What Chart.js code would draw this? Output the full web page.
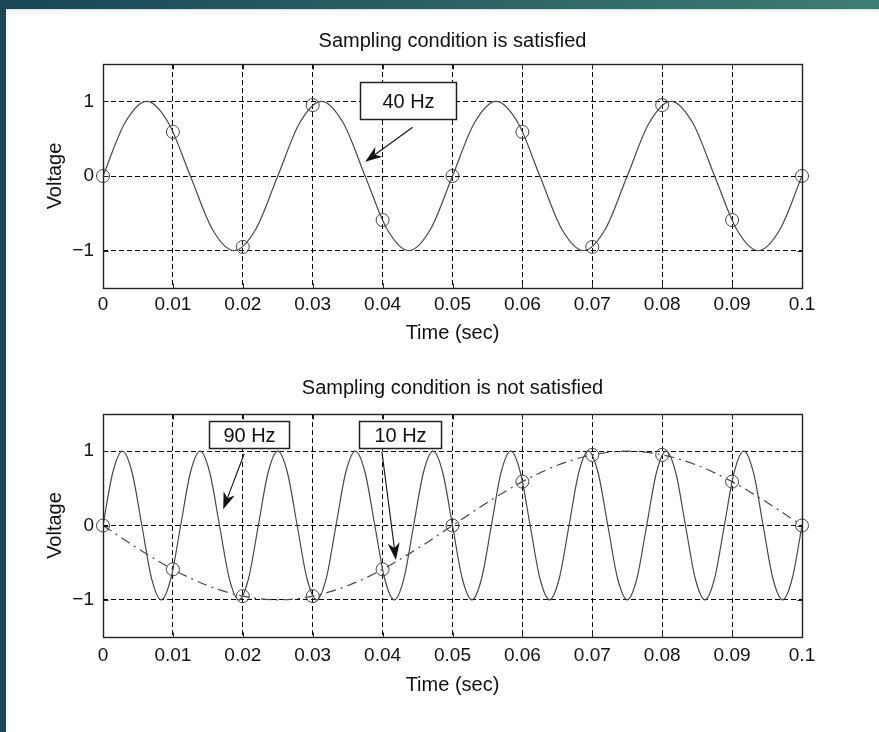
<!DOCTYPE html>
<html>
<head>
<meta charset="utf-8">
<title>Sampling condition</title>
<script src="https://cdn.jsdelivr.net/npm/chart.js@4.4.1/dist/chart.umd.min.js"></script>
<style>
  html, body { margin: 0; padding: 0; background: #fff; }
  body { width: 879px; height: 732px; position: relative; overflow: hidden; }
  #bandTop { position: absolute; left: 0; top: 0; width: 879px; height: 9px; z-index: 2;
             background: linear-gradient(to right, #1a4658, #2b6165 50%, #3e7d73);
             box-shadow: 0 1px 2px rgba(0,0,0,0.18); }
  #bandLeft { position: absolute; left: 0; top: 0; width: 6px; height: 732px; z-index: 2; background: #1a4658; }
  canvas { position: absolute; left: 0; }
  #top { top: 10px; }
  #bot { top: 355px; }
</style>
</head>
<body>
<div id="bandTop"></div>
<div id="bandLeft"></div>
<canvas id="top" width="879" height="345"></canvas>
<canvas id="bot" width="879" height="377"></canvas>
<script>
// axis ticks
var xTicks = [0, 0.01, 0.02, 0.03, 0.04, 0.05, 0.06, 0.07, 0.08, 0.09, 0.1];
var xLabels = ['0', '0.01', '0.02', '0.03', '0.04', '0.05', '0.06', '0.07', '0.08', '0.09', '0.1'];
var yTicks = [-1, 0, 1];
var yLabels = ['\u22121', '0', '1'];

// 40 Hz signal
var t40 = [0, 0.003125, 0.00625, 0.009375, 0.0125, 0.015625, 0.01875, 0.021875, 0.025, 0.028125,
           0.03125, 0.034375, 0.0375, 0.040625, 0.04375, 0.046875, 0.05, 0.053125, 0.05625, 0.059375,
           0.0625, 0.065625, 0.06875, 0.071875, 0.075, 0.078125, 0.08125, 0.084375, 0.0875, 0.090625,
           0.09375, 0.096875, 0.1];
var v40 = [0, 0.71, 1, 0.71, 0, -0.71, -1, -0.71,
           0, 0.71, 1, 0.71, 0, -0.71, -1, -0.71,
           0, 0.71, 1, 0.71, 0, -0.71, -1, -0.71,
           0, 0.71, 1, 0.71, 0, -0.71, -1, -0.71, 0];

// 90 Hz signal (lower plot)
var t90 = [0, 0.00139, 0.00278, 0.00417, 0.00556, 0.00694, 0.00833, 0.00972, 0.01111, 0.0125,
           0.01389, 0.01528, 0.01667, 0.01806, 0.01944, 0.02083, 0.02222, 0.02361, 0.025, 0.02639,
           0.02778, 0.02917, 0.03056, 0.03194, 0.03333, 0.03472, 0.03611, 0.0375, 0.03889, 0.04028,
           0.04167, 0.04306, 0.04444, 0.04583, 0.04722, 0.04861, 0.05, 0.05139, 0.05278, 0.05417,
           0.05556, 0.05694, 0.05833, 0.05972, 0.06111, 0.0625, 0.06389, 0.06528, 0.06667, 0.06806,
           0.06944, 0.07083, 0.07222, 0.07361, 0.075, 0.07639, 0.07778, 0.07917, 0.08056, 0.08194,
           0.08333, 0.08472, 0.08611, 0.0875, 0.08889, 0.09028, 0.09167, 0.09306, 0.09444, 0.09583,
           0.09722, 0.09861, 0.1];
var v90 = [0, 0.71, 1, 0.71, 0, -0.71, -1, -0.71,
           0, 0.71, 1, 0.71, 0, -0.71, -1, -0.71,
           0, 0.71, 1, 0.71, 0, -0.71, -1, -0.71,
           0, 0.71, 1, 0.71, 0, -0.71, -1, -0.71,
           0, 0.71, 1, 0.71, 0, -0.71, -1, -0.71,
           0, 0.71, 1, 0.71, 0, -0.71, -1, -0.71,
           0, 0.71, 1, 0.71, 0, -0.71, -1, -0.71,
           0, 0.71, 1, 0.71, 0, -0.71, -1, -0.71,
           0, 0.71, 1, 0.71, 0, -0.71, -1, -0.71, 0];

// 10 Hz alias (dash-dot curve)
var t10 = [0, 0.005, 0.01, 0.015, 0.02, 0.025, 0.03, 0.035, 0.04, 0.045, 0.05,
           0.055, 0.06, 0.065, 0.07, 0.075, 0.08, 0.085, 0.09, 0.095, 0.1];
var v10 = [0, -0.31, -0.59, -0.81, -0.95, -1, -0.95, -0.81, -0.59, -0.31, 0,
           0.31, 0.59, 0.81, 0.95, 1, 0.95, 0.81, 0.59, 0.31, 0];

// samples (circles), 100 Hz
var tSamp = [0, 0.01, 0.02, 0.03, 0.04, 0.05, 0.06, 0.07, 0.08, 0.09, 0.1];
var s40 = [0, 0.59, -0.95, 0.95, -0.59, 0, 0.59, -0.95, 0.95, -0.59, 0];
var s90 = [0, -0.59, -0.95, -0.95, -0.59, 0, 0.59, 0.95, 0.95, 0.59, 0];

// labels with arrows, in data units
var notesTop = {
    boxes: [{ text: '40 Hz', x0: 0.0368, x1: 0.0505, y0: 1.265, y1: 0.762 }],
    arrows: [{ from: [0.0443, 0.653], to: [0.0375, 0.19] }]
};
var notesBot = {
    boxes: [{ text: '90 Hz', x0: 0.0152, x1: 0.0266, y0: 1.41, y1: 1.04 },
            { text: '10 Hz', x0: 0.0366, x1: 0.0484, y0: 1.41, y1: 1.04 }],
    arrows: [{ from: [0.0202, 0.966], to: [0.0172, 0.218] },
             { from: [0.0399, 0.993], to: [0.0419, -0.463] }]
};

var FONT = "'Liberation Sans', Arial, Helvetica, sans-serif";
Chart.defaults.font.family = FONT;
Chart.defaults.color = '#111';

function pairs(xs, ys) {
    return xs.map(function (x, i) { return { x: x, y: ys[i] }; });
}

var notesPlugin = {
    id: 'notes',
    afterDatasetsDraw: function (chart, args, opts) {
        var ctx = chart.ctx, a = chart.chartArea, xs = chart.scales.x, ys = chart.scales.y;
        var L = Math.round(a.left) + 0.5, R = Math.round(a.right) + 0.5;
        var T = Math.round(a.top) + 0.5, B = Math.round(a.bottom) + 0.5;
        ctx.save();
        ctx.setLineDash([]);
        ctx.strokeStyle = '#222';
        ctx.lineWidth = 1.4;
        ctx.strokeRect(L, T, R - L, B - T);
        // inward tick marks
        ctx.lineWidth = 1;
        ctx.beginPath();
        xTicks.forEach(function (v) {
            var p = Math.round(xs.getPixelForValue(v)) + 0.5;
            ctx.moveTo(p, B); ctx.lineTo(p, B - 5);
            ctx.moveTo(p, T); ctx.lineTo(p, T + 5);
        });
        yTicks.forEach(function (v) {
            var p = Math.round(ys.getPixelForValue(v)) + 0.5;
            ctx.moveTo(L, p); ctx.lineTo(L + 5, p);
            ctx.moveTo(R, p); ctx.lineTo(R - 5, p);
        });
        ctx.stroke();

        // arrows
        ctx.strokeStyle = '#111';
        ctx.fillStyle = '#111';
        ctx.lineWidth = 1.1;
        (opts.arrows || []).forEach(function (ar) {
            var x1 = xs.getPixelForValue(ar.from[0]), y1 = ys.getPixelForValue(ar.from[1]);
            var x2 = xs.getPixelForValue(ar.to[0]), y2 = ys.getPixelForValue(ar.to[1]);
            var ang = Math.atan2(y2 - y1, x2 - x1);
            var c = Math.cos(ang), s = Math.sin(ang);
            var hl = 17, hw = 6;
            ctx.beginPath();
            ctx.moveTo(x1, y1);
            ctx.lineTo(x2 - c * hl * 0.7, y2 - s * hl * 0.7);
            ctx.stroke();
            ctx.beginPath();
            ctx.moveTo(x2, y2);
            ctx.lineTo(x2 - c * hl - s * hw, y2 - s * hl + c * hw);
            ctx.lineTo(x2 - c * hl * 0.7, y2 - s * hl * 0.7);
            ctx.lineTo(x2 - c * hl + s * hw, y2 - s * hl - c * hw);
            ctx.closePath();
            ctx.fill();
        });

        // text boxes
        (opts.boxes || []).forEach(function (b) {
            var bx0 = Math.round(xs.getPixelForValue(b.x0)) + 0.5, bx1 = Math.round(xs.getPixelForValue(b.x1)) + 0.5;
            var by0 = Math.round(ys.getPixelForValue(b.y0)) + 0.5, by1 = Math.round(ys.getPixelForValue(b.y1)) + 0.5;
            ctx.fillStyle = '#fff';
            ctx.fillRect(bx0, by0, bx1 - bx0, by1 - by0);
            ctx.strokeStyle = '#222';
            ctx.lineWidth = 1.5;
            ctx.strokeRect(bx0, by0, bx1 - bx0, by1 - by0);
            ctx.fillStyle = '#111';
            ctx.font = '20px ' + FONT;
            ctx.textAlign = 'center';
            ctx.textBaseline = 'middle';
            ctx.fillText(b.text, (bx0 + bx1) / 2, (by0 + by1) / 2 + 1);
        });
        ctx.restore();
    }
};

function makeChart(id, title, datasets, notes, lay) {
    return new Chart(document.getElementById(id), {
        type: 'line',
        data: { datasets: datasets },
        options: {
            responsive: false,
            animation: false,
            layout: { padding: { left: 0, right: 77, top: 0, bottom: lay.bottom } },
            plugins: {
                legend: { display: false },
                tooltip: { enabled: false },
                title: {
                    display: true,
                    text: title,
                    fullSize: false,
                    color: '#111',
                    font: { size: 20, weight: 'normal' },
                    padding: { top: lay.titleTop, bottom: lay.titleBottom }
                },
                notes: notes
            },
            scales: {
                x: {
                    type: 'linear',
                    min: 0,
                    max: 0.1,
                    afterBuildTicks: function (s) { s.ticks = xTicks.map(function (v) { return { value: v }; }); },
                    afterFit: function (s) { s.height = 60; },
                    ticks: {
                        autoSkip: false,
                        maxRotation: 0,
                        padding: lay.tickPad,
                        color: '#111',
                        font: { size: 19 },
                        callback: function (v, i) { return xLabels[i]; }
                    },
                    grid: { color: '#000', lineWidth: 1, drawTicks: false },
                    border: { display: false, dash: [5, 3] },
                    title: {
                        display: true,
                        text: 'Time (sec)',
                        color: '#111',
                        font: { size: 20 },
                        padding: { top: 0, bottom: lay.xTitle }
                    }
                },
                y: {
                    min: -1.5,
                    max: 1.5,
                    afterBuildTicks: function (s) { s.ticks = yTicks.map(function (v) { return { value: v }; }); },
                    afterFit: function (s) { s.width = 103; },
                    ticks: {
                        padding: 9,
                        color: '#111',
                        font: { size: 19 },
                        callback: function (v, i) { return yLabels[i]; }
                    },
                    grid: { color: '#000', lineWidth: 1, drawTicks: false },
                    border: { display: false, dash: [5, 3] },
                    title: {
                        display: true,
                        text: 'Voltage',
                        color: '#111',
                        font: { size: 20 },
                        padding: { top: 43, bottom: 0 }
                    }
                }
            }
        },
        plugins: [notesPlugin]
    });
}

function curve(xs, ys, dash) {
    return {
        data: pairs(xs, ys),
        borderColor: '#484848',
        borderWidth: 1.2,
        borderDash: dash || [],
        pointRadius: 0,
        cubicInterpolationMode: 'monotone',
        fill: false
    };
}

function samples(ys) {
    return {
        data: pairs(tSamp, ys),
        showLine: false,
        pointStyle: 'circle',
        pointRadius: 6.5,
        pointBorderWidth: 1,
        pointBorderColor: '#444',
        pointBackgroundColor: 'rgba(0,0,0,0)',
        clip: false
    };
}

makeChart('top', 'Sampling condition is satisfied',
    [curve(t40, v40), samples(s40)],
    notesTop,
    { bottom: 7, titleTop: 19, titleBottom: 11, xTitle: 3, tickPad: 5 });

makeChart('bot', 'Sampling condition is not satisfied',
    [curve(t90, v90), curve(t10, v10, [10, 5, 2, 5]), samples(s90)],
    notesBot,
    { bottom: 35, titleTop: 21, titleBottom: 14, xTitle: 0, tickPad: 7 });
</script>
</body>
</html>
